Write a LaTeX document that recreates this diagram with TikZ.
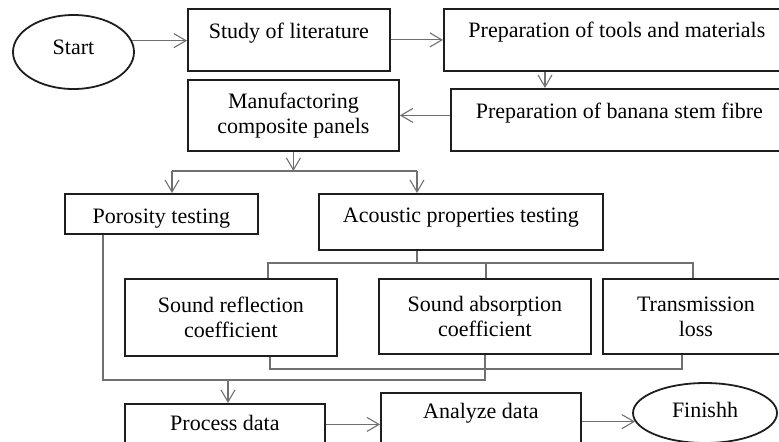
\documentclass[tikz,border=0pt]{standalone}
\usepackage{fontspec}
\setmainfont{Liberation Serif}
\usetikzlibrary{arrows.meta, shapes.geometric}
\definecolor{BoxInk}{HTML}{1E1E1E}
\definecolor{LineGray}{HTML}{707070}
\tikzset{
  pbox/.style={draw=BoxInk, line width=0.9pt, align=center, inner sep=0pt,
    anchor=north west, font=\fontsize{11}{12.5}\selectfont},
  tbox/.style={draw=BoxInk, line width=0.9pt, ellipse, inner sep=0pt,
    font=\fontsize{11}{12.5}\selectfont},
  flow/.style={-{Straight Barb[length=6pt, width=7pt]}, draw=LineGray, line width=0.55pt},
  link/.style={draw=LineGray, line width=0.55pt},
}

\begin{document}
\begin{tikzpicture}[x=0.5pt, y=-0.5pt]
    \useasboundingbox (0,0) rectangle (779,441);
    \clip (0,0) rectangle (779,441);
    \node[tbox, minimum width=60.5pt, minimum height=37pt, text height=8pt, text depth=6pt] (start) at (73.5,52) {Start};
    \node[pbox, minimum width=101pt, text height=15pt, text depth=16pt] (study) at (187,8) {Study of literature};
    \node[pbox, minimum width=173pt, text height=14.5pt, text depth=16.5pt] (tools) at (443,8) {Preparation of tools and materials};
    \node[pbox, minimum width=168.5pt, text height=15pt, text depth=16pt] (banana) at (450,88) {Preparation of banana stem fibre};
    \node[pbox, minimum width=105.5pt, minimum height=35.5pt] (manuf) at (187,79) {Manufactoring\\composite panels};
    \node[pbox, minimum width=96.5pt, text height=14.75pt, text depth=5.25pt] (porosity) at (64,193) {Porosity testing};
    \node[pbox, minimum width=142pt, text height=14.5pt, text depth=13.5pt] (acoustic) at (318,193) {Acoustic properties testing};
    \node[pbox, minimum width=106pt, minimum height=38.5pt] (reflect) at (124,278) {Sound reflection\\coefficient};
    \node[pbox, minimum width=106pt, minimum height=37.5pt] (absorb) at (378,278) {Sound absorption\\coefficient};
    \node[pbox, minimum width=93pt, minimum height=37.5pt] (trans) at (602,278) {Transmission\\loss};
    \node[pbox, minimum width=100pt, text height=13.5pt, text depth=15pt] (process) at (124,403) {Process data};
    \node[pbox, minimum width=100pt, text height=13pt, text depth=18.5pt] (analyze) at (380,392) {Analyze data};
    \node[tbox, minimum width=72pt, minimum height=30pt, text height=8pt, text depth=4pt] (finish) at (705,413) {Finishh};

    \coordinate (forkL) at (172,171);
    \coordinate (forkR) at (417,171);
    \coordinate (busL) at (268,263);
    \coordinate (busM) at (486,263);
    \coordinate (busR) at (693,263);
    \coordinate (joinL) at (270,369);
    \coordinate (joinR) at (682,369);
    \coordinate (mergeL) at (103,380);
    \coordinate (mergeR) at (485,380);
    \coordinate (drop) at (228,380);

    \draw[flow] (start.11) -- (start.11 -| study.west);
    \draw[flow] (study.east) -- (study.east -| tools.west);
    \draw[flow] ([xshift=51pt]tools.south west) -- ([xshift=51pt]tools.south west |- banana.north);
    \draw[flow] (banana.west |- manuf.east) -- (manuf.east);
    \draw[flow] (manuf.south) -- (manuf.south |- forkL);
    \draw[link] (forkL) -- (forkR);
    \draw[flow] (forkL) -- (forkL |- porosity.north);
    \draw[flow] (forkR) -- (forkR |- acoustic.north);
    \draw[link] (acoustic.south -| forkR) -- (forkR |- busL);
    \draw[link] (busL |- reflect.north) -- (busL) -- (busR) -- (busR |- trans.north);
    \draw[link] (busM) -- (busM |- absorb.north);
    \draw[link] (reflect.south -| joinL) -- (joinL) -- (joinR) -- (joinR |- trans.south);
    \draw[link] (porosity.south -| mergeL) -- (mergeL) -- (mergeR) -- (mergeR |- absorb.south);
    \draw[flow] (drop) -- (drop |- process.north);
    \draw[flow] (process.east |- analyze.west) -- (analyze.west);
    \draw[flow] (analyze.east |- finish.187) -- (finish.187);
\end{tikzpicture}
\end{document}
